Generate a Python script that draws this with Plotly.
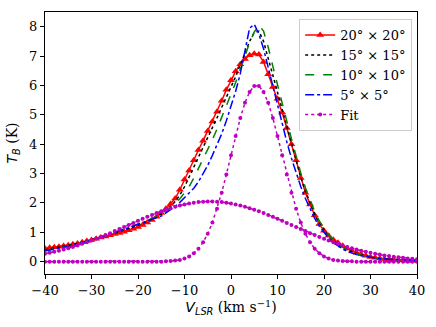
import plotly.graph_objects as go

# Velocity grid (km/s)
velocity = list(range(-40, 41))

# Observed spectra, T_B (K)
tb_20x20 = [0.45, 0.47, 0.49, 0.51, 0.53, 0.56, 0.59, 0.62, 0.66, 0.70,
            0.74, 0.78, 0.82, 0.86, 0.90, 0.94, 0.98, 1.02, 1.07, 1.12,
            1.18, 1.25, 1.33, 1.42, 1.53, 1.66, 1.80, 1.96, 2.15, 2.45,
            2.80, 3.10, 3.45, 3.80, 4.12, 4.45, 4.77, 5.10, 5.48, 5.85,
            6.18, 6.48, 6.72, 6.90, 7.03, 7.08, 7.05, 6.80, 6.38, 5.95,
            5.55, 5.08, 4.55, 4.00, 3.45, 2.85, 2.35, 1.95, 1.58, 1.28,
            1.05, 0.88, 0.75, 0.64, 0.54, 0.45, 0.37, 0.31, 0.25, 0.20,
            0.16, 0.13, 0.11, 0.09, 0.08, 0.07, 0.06, 0.05, 0.04, 0.04, 0.03]

tb_15x15 = [0.40, 0.43, 0.46, 0.49, 0.52, 0.55, 0.58, 0.62, 0.66, 0.70,
            0.74, 0.79, 0.83, 0.88, 0.92, 0.97, 1.02, 1.07, 1.12, 1.18,
            1.24, 1.30, 1.37, 1.44, 1.52,
            1.62, 1.74, 1.88, 2.05, 2.27, 2.55, 2.88, 3.20, 3.53, 3.87,
            4.22, 4.56, 4.90, 5.25, 5.60, 5.93, 6.30, 6.70, 7.10, 7.50,
            7.80, 7.85, 7.50, 6.92, 6.32, 5.75, 5.18, 4.60, 4.00, 3.42,
            2.88, 2.40, 1.98, 1.62, 1.32, 1.08,
            0.88, 0.72, 0.60, 0.49, 0.41, 0.34, 0.28, 0.23, 0.19, 0.16,
            0.13, 0.11, 0.09, 0.08, 0.07, 0.06, 0.05, 0.05, 0.04, 0.04]

tb_10x10 = [0.38, 0.41, 0.44, 0.47, 0.50, 0.54, 0.57, 0.61, 0.65, 0.69,
            0.74, 0.79, 0.84, 0.89, 0.94, 0.99, 1.04, 1.10, 1.16, 1.22,
            1.28, 1.34, 1.40, 1.46, 1.52,
            1.60, 1.71, 1.83, 1.97, 2.14, 2.33, 2.55, 2.85, 3.17, 3.50,
            3.83, 4.15, 4.52, 4.90, 5.30, 5.70, 6.10, 6.55, 7.00, 7.45,
            7.82, 8.05, 7.85, 7.30, 6.65, 6.00, 5.38, 4.78, 4.18, 3.58,
            3.02, 2.52, 2.08, 1.70, 1.38, 1.12,
            0.90, 0.73, 0.60, 0.49, 0.40, 0.33, 0.27, 0.22, 0.18, 0.15,
            0.13, 0.11, 0.09, 0.08, 0.07, 0.06, 0.05, 0.05, 0.04, 0.04]

tb_5x5 = [0.36, 0.39, 0.42, 0.45, 0.49, 0.52, 0.56, 0.60, 0.64, 0.69,
          0.74, 0.79, 0.84, 0.89, 0.94, 0.99, 1.04, 1.10, 1.16, 1.22,
          1.28, 1.34, 1.40, 1.45, 1.50,
          1.55, 1.65, 1.76, 1.88, 2.02, 2.17, 2.33, 2.50, 2.72, 2.98,
          3.28, 3.62, 3.98, 4.35, 4.80, 5.30, 5.80, 6.40, 7.15, 7.95,
          8.08, 7.75, 7.25, 6.62, 5.95, 5.30, 4.68, 4.08, 3.52, 3.02,
          2.56, 2.15, 1.78, 1.47, 1.20, 0.98,
          0.80, 0.65, 0.53, 0.43, 0.35, 0.29, 0.24, 0.20, 0.17, 0.14,
          0.12, 0.10, 0.09, 0.08, 0.07, 0.06, 0.05, 0.05, 0.04, 0.04]

# Fit components
fit_narrow = [0.00, 0.00, 0.00, 0.00, 0.00, 0.00, 0.00, 0.00, 0.00, 0.00,
              0.00, 0.00, 0.00, 0.00, 0.00, 0.00, 0.00, 0.00, 0.00, 0.00,
              0.00, 0.00, 0.00, 0.00, 0.00, 0.00,
              0.01, 0.02, 0.04, 0.06, 0.11, 0.18, 0.29, 0.44, 0.66, 0.95,
              1.33, 1.80, 2.35, 2.97, 3.62, 4.28, 4.89, 5.41, 5.78, 5.98,
              5.98, 5.78, 5.41, 4.89, 4.28, 3.62, 2.97, 2.35, 1.80, 1.33,
              0.95, 0.66, 0.44, 0.29, 0.18, 0.11, 0.06, 0.04, 0.02, 0.01, 0.01,
              0.00, 0.00, 0.00, 0.00, 0.00, 0.00, 0.00, 0.00, 0.00, 0.00,
              0.00, 0.00, 0.00, 0.00]

fit_broad = [0.27, 0.30, 0.34, 0.37, 0.41, 0.46, 0.50, 0.55, 0.61, 0.66,
             0.72, 0.78, 0.84, 0.91, 0.97, 1.04, 1.11, 1.18, 1.25, 1.32,
             1.39, 1.46, 1.53, 1.59, 1.66, 1.72, 1.77, 1.82, 1.87, 1.91,
             1.95, 1.98, 2.01, 2.03, 2.04, 2.05, 2.05, 2.04, 2.03, 2.01,
             1.98, 1.95, 1.91, 1.87, 1.82, 1.77, 1.72, 1.66, 1.59, 1.53,
             1.46, 1.39, 1.32, 1.25, 1.18, 1.11, 1.04, 0.97, 0.91, 0.84,
             0.78, 0.72, 0.66, 0.61, 0.55, 0.50, 0.46, 0.41, 0.37, 0.34,
             0.30, 0.27, 0.24, 0.21, 0.19, 0.17, 0.15, 0.13, 0.11, 0.10, 0.08]

x_ticks = [-40, -30, -20, -10, 0, 10, 20, 30, 40]
y_ticks = [0, 1, 2, 3, 4, 5, 6, 7, 8]

SERIF = "DejaVu Serif"
SANS = "DejaVu Sans"

fig = go.Figure()
fig.add_trace(go.Scatter(x=velocity, y=tb_20x20, mode="lines+markers", name="20° × 20°",
                         legendgroup="a",
                         line=dict(color="#ff0000", width=1.5),
                         marker=dict(symbol="triangle-up", size=7, color="#ff0000")))
fig.add_trace(go.Scatter(x=velocity, y=tb_15x15, mode="lines", name="15° × 15°",
                         legendgroup="b",
                         line=dict(color="black", width=1.5, dash="dot")))
fig.add_trace(go.Scatter(x=velocity, y=tb_10x10, mode="lines", name="10° × 10°",
                         legendgroup="c",
                         line=dict(color="#008000", width=1.5, dash="dash")))
fig.add_trace(go.Scatter(x=velocity, y=tb_5x5, mode="lines", name="5° × 5°",
                         legendgroup="d",
                         line=dict(color="#0000ff", width=1.5, dash="dashdot")))
fig.add_trace(go.Scatter(x=velocity, y=fit_narrow, mode="lines+markers", name="Fit",
                         legendgroup="e",
                         line=dict(color="#bf00bf", width=1.5, dash="dot"),
                         marker=dict(symbol="circle", size=4, color="#bf00bf")))
fig.add_trace(go.Scatter(x=velocity, y=fit_broad, mode="lines+markers", name="Fit",
                         legendgroup="e", showlegend=False,
                         line=dict(color="#bf00bf", width=1.5, dash="dot"),
                         marker=dict(symbol="circle", size=4, color="#bf00bf")))

axis_common = dict(showline=True, mirror=True, linecolor="black", linewidth=1,
                   ticks="outside", ticklen=4, tickwidth=1, tickcolor="black",
                   showgrid=False, zeroline=False, automargin=False,
                   tickfont=dict(family=SERIF, size=13, color="black"))

fig.update_layout(
    width=436, height=327,
    margin=dict(l=45, r=19, t=12, b=53),
    plot_bgcolor="white", paper_bgcolor="white",
    font=dict(family=SERIF, size=13, color="black"),
    xaxis=dict(range=[-40, 40], tickvals=x_ticks,
               title=dict(text=f'<span style="font-family:{SANS}"><i>V</i><sub><i>LSR</i></sub></span> (km s<sup>−1</sup>)',
                          font=dict(family=SERIF, size=14, color="black"), standoff=2),
               **axis_common),
    yaxis=dict(range=[-0.42, 8.5], tickvals=y_ticks,
               title=dict(text=f'<span style="font-family:{SANS}"><i>T</i><sub><i>B</i></sub></span> (K)',
                          font=dict(family=SERIF, size=14, color="black"), standoff=8),
               **axis_common),
    legend=dict(x=0.987, y=0.973, xanchor="right", yanchor="top",
                bgcolor="rgba(255,255,255,0.8)", bordercolor="#cccccc", borderwidth=1,
                font=dict(family=SERIF, size=13, color="black"),
                traceorder="grouped", tracegroupgap=0),
    showlegend=True,
)

fig.write_html("out.html", config={"displayModeBar": False},
               post_script="document.body.style.margin='0';document.body.style.padding='0';")
